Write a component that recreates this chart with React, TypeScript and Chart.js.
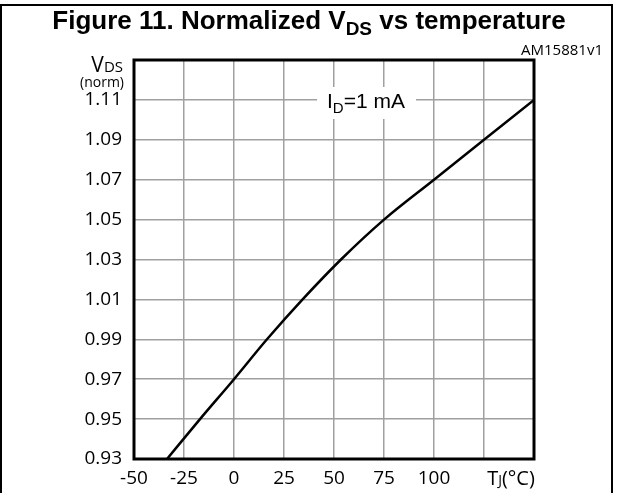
import React, { useEffect, useRef } from "react";
import { Chart, registerables } from "chart.js";

Chart.register(...registerables);

// Data
const tempC = [-33.5, -17, 0, 16.5, 34.3, 53.5, 75, 100, 125, 150];
const vdsNorm = [0.93, 0.95, 0.97, 0.99, 1.01, 1.03, 1.05, 1.07, 1.09, 1.11];

const xTickValues = [-50, -25, 0, 25, 50, 75, 100, 125, 150];
const xTickLabels = ["-50", "-25", "0", "25", "50", "75", "100", "", ""];
const yTickValues = [0.93, 0.95, 0.97, 0.99, 1.01, 1.03, 1.05, 1.07, 1.09, 1.11, 1.13];
const yTickLabels = ["0.93", "0.95", "0.97", "0.99", "1.01", "1.03", "1.05", "1.07", "1.09", "1.11", ""];

const W = 617;
const H = 493;
const LEFT = 134;
const RIGHT = 534;
const TOP = 60;
const BOTTOM = 459;

const SANS = "'Open Sans', sans-serif";
const ARIAL = "'Liberation Sans', Arial, sans-serif";

function drawParts(
  ctx: CanvasRenderingContext2D,
  parts: { t: string; font: string; dy: number }[],
  x: number,
  y: number,
  align: "left" | "center" | "right"
) {
  let total = 0;
  const widths = parts.map((p) => {
    ctx.font = p.font;
    const w = ctx.measureText(p.t).width;
    total += w;
    return w;
  });
  let cx = align === "left" ? x : align === "center" ? x - total / 2 : x - total;
  ctx.textAlign = "left";
  ctx.textBaseline = "alphabetic";
  parts.forEach((p, i) => {
    ctx.font = p.font;
    ctx.fillText(p.t, cx, y + p.dy);
    cx += widths[i];
  });
  return total;
}

const decorPlugin = {
  id: "decor",
  beforeDatasetsDraw(chart: any) {
    const ctx = chart.ctx as CanvasRenderingContext2D;
    ctx.save();
    // label box with white background
    ctx.fillStyle = "#ffffff";
    ctx.fillRect(317, 87, 99, 32);
    ctx.fillStyle = "#000000";
    drawParts(
      ctx,
      [
        { t: "I", font: `21px ${ARIAL}`, dy: 0 },
        { t: "D", font: `15px ${ARIAL}`, dy: 5 },
        { t: "=1 mA", font: `21px ${ARIAL}`, dy: 0 },
      ],
      327,
      108,
      "left"
    );
    ctx.restore();
  },
  afterDraw(chart: any) {
    const ctx = chart.ctx as CanvasRenderingContext2D;
    const a = chart.chartArea;
    ctx.save();
    // plot frame
    ctx.strokeStyle = "#000";
    ctx.lineWidth = 3;
    ctx.strokeRect(a.left, a.top, a.right - a.left, a.bottom - a.top);
    // outer frame
    ctx.lineWidth = 2;
    ctx.beginPath();
    ctx.moveTo(1, H);
    ctx.lineTo(1, 5);
    ctx.lineTo(612, 5);
    ctx.lineTo(612, H);
    ctx.stroke();

    ctx.fillStyle = "#000";
    // title
    drawParts(
      ctx,
      [
        { t: "Figure 11. Normalized V", font: `bold 26px ${ARIAL}`, dy: 0 },
        { t: "DS", font: `bold 19px ${ARIAL}`, dy: 6 },
        { t: " vs temperature", font: `bold 26px ${ARIAL}`, dy: 0 },
      ],
      309,
      29,
      "center"
    );
    // figure id
    ctx.font = `15px ${SANS}`;
    ctx.textAlign = "right";
    ctx.textBaseline = "alphabetic";
    ctx.fillText("AM15881v1", 603, 55);
    // y axis title
    drawParts(
      ctx,
      [
        { t: "V", font: `21px ${SANS}`, dy: 0 },
        { t: "DS", font: `15px ${SANS}`, dy: 0 },
      ],
      123,
      72,
      "right"
    );
    ctx.font = `14px ${SANS}`;
    ctx.textAlign = "right";
    ctx.textBaseline = "alphabetic";
    ctx.fillText("(norm)", 124, 87);
    // x axis title
    drawParts(
      ctx,
      [
        { t: "T", font: `20px ${SANS}`, dy: 0 },
        { t: "J", font: `14px ${SANS}`, dy: 0 },
        { t: "(°C)", font: `20px ${SANS}`, dy: 0 },
      ],
      511,
      485,
      "center"
    );
    ctx.restore();
  },
};

export default function App() {
  const ref = useRef<HTMLCanvasElement | null>(null);

  useEffect(() => {
    if (!ref.current) return;
    const chart = new Chart(ref.current, {
      type: "line",
      data: {
        datasets: [
          {
            data: tempC.map((t, i) => ({ x: t, y: vdsNorm[i] })),
            borderColor: "#000000",
            borderWidth: 2.5,
            pointRadius: 0,
            cubicInterpolationMode: "monotone",
            fill: false,
          },
        ],
      },
      options: {
        animation: false,
        responsive: false,
        devicePixelRatio: 1,
        layout: { padding: { left: 0, top: TOP, right: W - RIGHT, bottom: 0 } },
        plugins: {
          legend: { display: false },
          tooltip: { enabled: false },
          title: { display: false },
        },
        scales: {
          x: {
            type: "linear",
            min: -50,
            max: 150,
            afterBuildTicks: (s: any) => {
              s.ticks = xTickValues.map((v) => ({ value: v }));
            },
            afterFit: (s: any) => {
              s.height = H - BOTTOM;
            },
            grid: { color: "#a0a0a0", lineWidth: 1.5, drawTicks: false },
            border: { display: false },
            ticks: {
              padding: 8,
              color: "#000",
              font: { family: SANS, size: 19 },
              maxRotation: 0,
              autoSkip: false,
              callback: (_v: any, i: number) => xTickLabels[i],
            },
          },
          y: {
            type: "linear",
            min: 0.93,
            max: 1.13,
            afterBuildTicks: (s: any) => {
              s.ticks = yTickValues.map((v) => ({ value: v }));
            },
            afterFit: (s: any) => {
              s.width = LEFT;
            },
            grid: { color: "#a0a0a0", lineWidth: 1.5, drawTicks: false },
            border: { display: false },
            ticks: {
              padding: 12,
              color: "#000",
              font: { family: SANS, size: 19 },
              autoSkip: false,
              callback: (_v: any, i: number) => yTickLabels[i],
            },
          },
        },
      },
      plugins: [decorPlugin],
    });
    return () => chart.destroy();
  }, []);

  return (
    <div style={{ position: "absolute", left: 0, top: 0, width: W, height: H, background: "#fff" }}>
      <canvas ref={ref} width={W} height={H} style={{ display: "block", width: W, height: H }} />
    </div>
  );
}
